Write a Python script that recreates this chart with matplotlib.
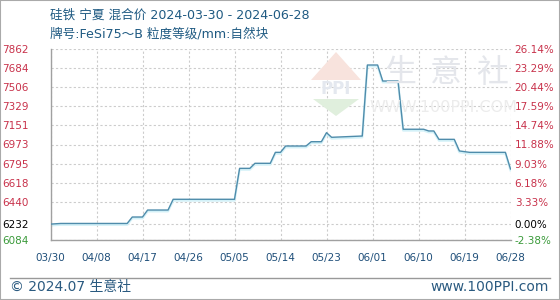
import matplotlib
matplotlib.use("Agg")
import matplotlib.pyplot as plt
import matplotlib.transforms as mtransforms
from matplotlib.patches import Polygon, Rectangle
import pandas as pd

plt.rcParams['font.family'] = ['Noto Sans CJK SC', 'DejaVu Sans']

# ---- data ----
dates = ['2024-03-30', '2024-04-01', '2024-04-14', '2024-04-15', '2024-04-17',
         '2024-04-18', '2024-04-22', '2024-04-23', '2024-05-05', '2024-05-06',
         '2024-05-08', '2024-05-09', '2024-05-12', '2024-05-13', '2024-05-14',
         '2024-05-15', '2024-05-19', '2024-05-20', '2024-05-22', '2024-05-23',
         '2024-05-24', '2024-05-30', '2024-05-31', '2024-06-02', '2024-06-03',
         '2024-06-06', '2024-06-07', '2024-06-11', '2024-06-12', '2024-06-13',
         '2024-06-14', '2024-06-17', '2024-06-18', '2024-06-20', '2024-06-27',
         '2024-06-28']
prices = [6232, 6238, 6238, 6298, 6298,
          6363, 6363, 6463, 6463, 6751,
          6751, 6798, 6798, 6900, 6900,
          6959, 6959, 6999, 6999, 7083,
          7040, 7052, 7713, 7713, 7564,
          7564, 7115, 7115, 7099, 7099,
          7021, 7021, 6913, 6900, 6900,
          6745]
left_ticks = [7862, 7684, 7506, 7329, 7151, 6973, 6795, 6618, 6440, 6232, 6084]
right_labels = ['26.14%', '23.29%', '20.44%', '17.59%', '14.74%', '11.88%',
                '9.03%', '6.18%', '3.33%', '0.00%', '-2.38%']
x_start, x_end = '2024-03-30', '2024-06-28'
title1 = '硅铁 宁夏 混合价 2024-03-30 - 2024-06-28'
title2 = '牌号:FeSi75～B 粒度等级/mm:自然块'
footer_left = '© 2024.07 生意社'
footer_right = 'www.100PPI.com'

W, H = 560, 300
fig = plt.figure(figsize=(W / 100, H / 100), dpi=100)
fig.patch.set_facecolor('white')

def fx(px):
    return px / W

def fy(py):
    return 1 - py / H

tf = fig.transFigure

# watermark logo (behind everything)
fig.patches.append(Polygon([(fx(311), fy(80)), (fx(336), fy(52)), (fx(361), fy(80))],
                           closed=True, transform=tf, facecolor='#f8e3dd', edgecolor='none', zorder=0))
fig.patches.append(Polygon([(fx(313), fy(99)), (fx(336), fy(116)), (fx(359), fy(99))],
                           closed=True, transform=tf, facecolor='#e0efdd', edgecolor='none', zorder=0))
fig.text(fx(336), fy(89), 'PPI', ha='center', va='center', fontsize=12, fontweight='bold',
         color='#e4e8ef', family='DejaVu Sans', zorder=0)
for cx, ch in zip([400, 446, 492], '生意社'):
    fig.text(fx(cx), fy(73), ch, ha='center', va='center', fontsize=23,
             color='#e4e6eb', zorder=0)
fig.text(fx(443), fy(107), 'WWW.100PPI.COM', ha='center', va='center', fontsize=11.5,
         color='#ececec', family='DejaVu Sans', zorder=0)

ax = fig.add_axes([fx(50.5), fy(240), fx(510.5) - fx(50.5), fy(49) - fy(240)])
ax.set_facecolor('none')

x = pd.to_datetime(dates)
xt = pd.date_range(x_start, x_end, freq='9D')

# shadow + line
shadow = mtransforms.offset_copy(ax.transData, fig=fig, x=0, y=-1.3, units='dots')
ax.plot(x, prices, color='#d3f1f8', lw=1.6, transform=shadow, zorder=2)
ax.plot(x, prices, color='#4f8cab', lw=1.0, zorder=3)

ax.set_xlim(pd.Timestamp(x_start), pd.Timestamp(x_end))
ax.set_ylim(6084, 7862)
ax.set_xticks(xt)
ax.set_xticklabels([d.strftime('%m/%d') for d in xt])
ax.set_yticks(left_ticks)
ax.set_yticklabels([str(v) for v in left_ticks])

ax.grid(True, color='#cccccc', linestyle=(0, (2, 2)), linewidth=0.8)
ax.set_axisbelow(True)
for s in ['top', 'right']:
    ax.spines[s].set_visible(False)
for s in ['left', 'bottom']:
    ax.spines[s].set_color('#a0a0a0')
    ax.spines[s].set_linewidth(1.0)

ax.tick_params(axis='both', length=0)
ax.tick_params(axis='x', pad=9, labelsize=7.5, labelcolor='#1f4f7a')
ax.tick_params(axis='y', pad=16, labelsize=7.5)

def color_for(i, n):
    if i == n - 1:
        return '#3a9a3a'
    if i == n - 2:
        return '#000000'
    return '#c8324b'

for i, lab in enumerate(ax.get_yticklabels()):
    lab.set_color(color_for(i, len(left_ticks)))
    lab.set_family('DejaVu Sans')
for lab in ax.get_xticklabels():
    lab.set_family('DejaVu Sans')

ax2 = ax.twinx()
ax2.set_ylim(6084, 7862)
ax2.set_yticks(left_ticks)
ax2.set_yticklabels(right_labels)
ax2.tick_params(axis='y', length=0, pad=3, labelsize=7.5)
for s in ax2.spines.values():
    s.set_visible(False)
for i, lab in enumerate(ax2.get_yticklabels()):
    lab.set_color(color_for(i, len(right_labels)))
    lab.set_family('DejaVu Sans')

# titles
tfam = ['DejaVu Sans', 'Noto Sans CJK SC']
fig.text(fx(50), fy(15), title1, ha='left', va='center', fontsize=9.1, color='#1f5a82',
         family=tfam)
fig.text(fx(50), fy(34), title2, ha='left', va='center', fontsize=9.1, color='#1f5a82',
         family=tfam)

# footer
fig.add_artist(plt.Line2D([fx(10), fx(550)], [fy(277.5), fy(277.5)], transform=tf,
                          color='#999999', lw=1.0))
fig.text(fx(10), fy(287), footer_left, ha='left', va='center', fontsize=10, color='#2a5a80',
         family=tfam)
fig.text(fx(549), fy(287), footer_right, ha='right', va='center', fontsize=10, color='#2a5a80',
         family='DejaVu Sans')

# outer border
fig.patches.append(Rectangle((0, 0), 1, 1, transform=tf, fill=False,
                             edgecolor='#aaaaaa', lw=1.5))

fig.savefig('out.png', dpi=100)
